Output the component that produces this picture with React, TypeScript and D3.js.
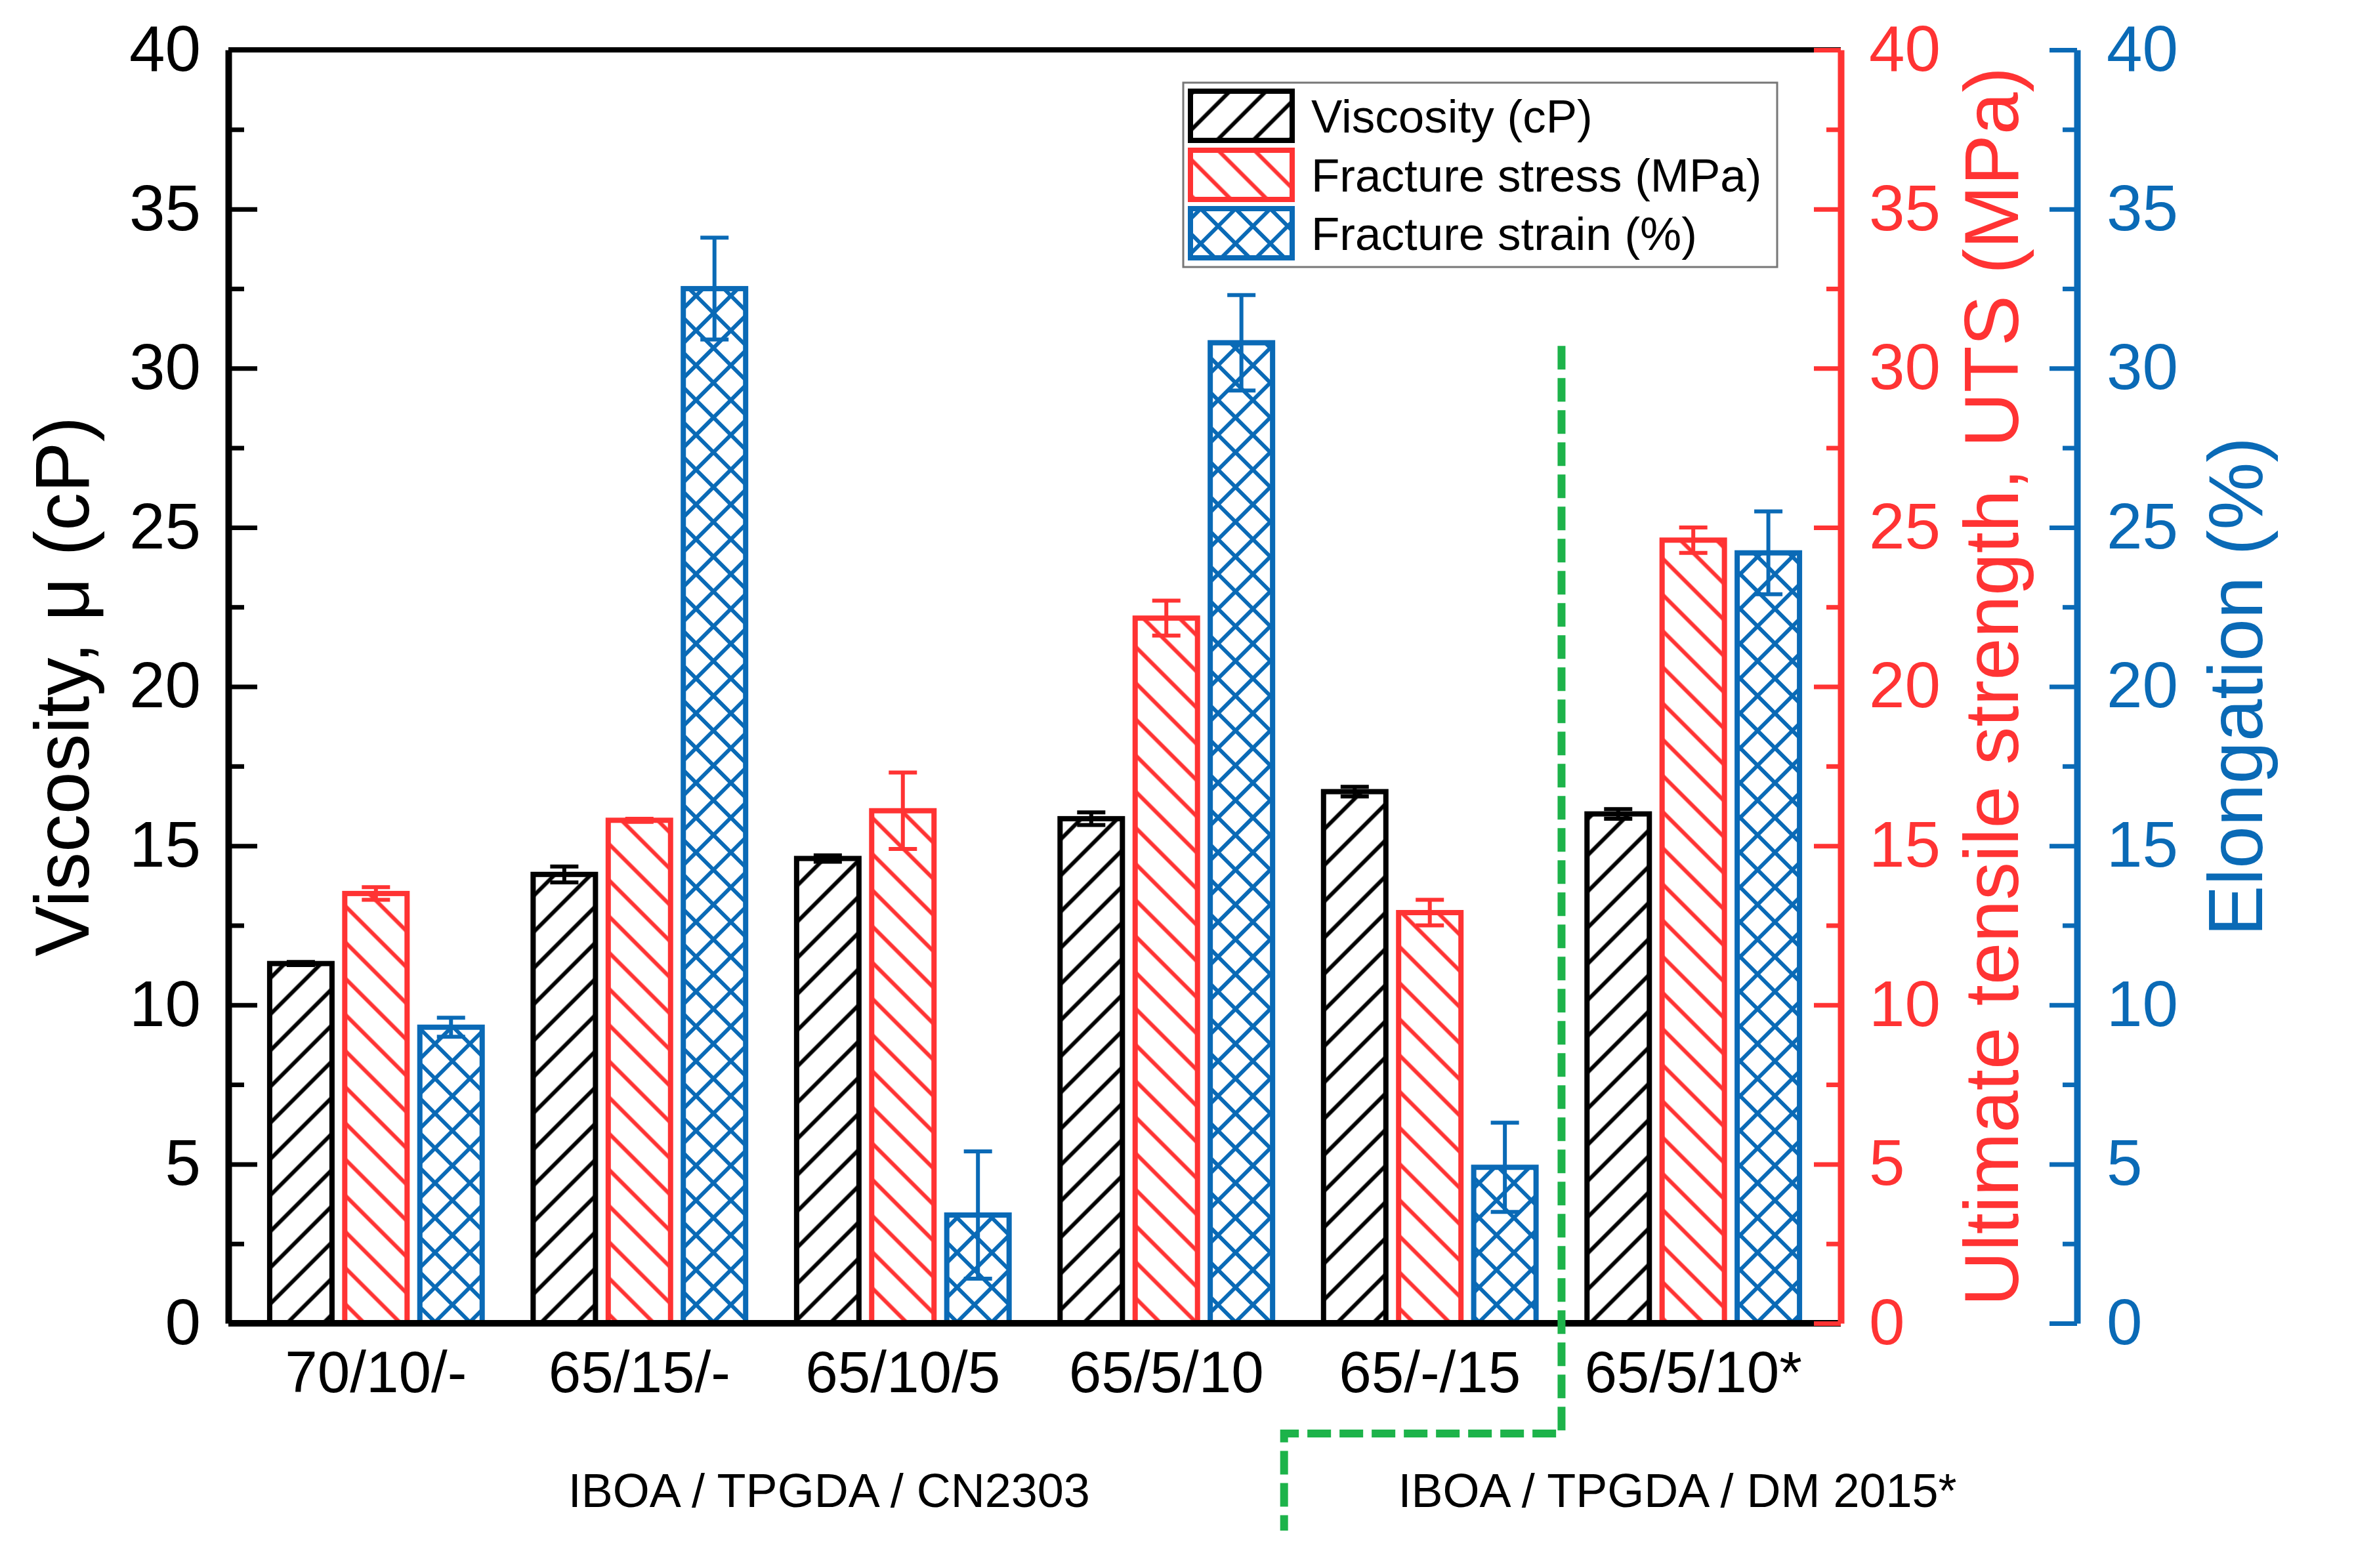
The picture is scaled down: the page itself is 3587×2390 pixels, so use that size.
import React, { useEffect, useRef } from 'react';
import * as d3 from 'd3';

// composition labels (IBOA/TPGDA/oligomer)
const categories = ['70/10/-', '65/15/-', '65/10/5', '65/5/10', '65/-/15', '65/5/10*'];

// left axis: viscosity (cP)
const viscosity = [11.3, 14.1, 14.6, 15.85, 16.7, 16.0];
const viscosityErr = [0.05, 0.25, 0.1, 0.2, 0.15, 0.15];

// red axis: fracture stress / UTS (MPa)
const stress = [13.5, 15.8, 16.1, 22.15, 12.9, 24.6];
const stressErr = [0.2, 0.05, 1.2, 0.55, 0.4, 0.4];

// blue axis: fracture strain / elongation (%)
const strain = [9.3, 32.5, 3.4, 30.8, 4.9, 24.2];
const strainErr = [0.3, 1.6, 2.0, 1.5, 1.4, 1.3];

const majorTicks = [0, 5, 10, 15, 20, 25, 30, 35, 40];
const minorTicks = [2.5, 7.5, 12.5, 17.5, 22.5, 27.5, 32.5, 37.5];

const legendLabels = ['Viscosity (cP)', 'Fracture stress (MPa)', 'Fracture strain (%)'];
const groupLabels = ['IBOA / TPGDA / CN2303', 'IBOA / TPGDA / DM 2015*'];
const groupLabelPos = [2.72, 5.94];

const W = 3587;
const H = 2390;
const FONT = "'Liberation Sans', Arial, Helvetica, sans-serif";
const RED = '#ff3333';
const BLUE = '#0a6ab6';
const GREEN = '#1db34a';

const App: React.FC = () => {
  const svgRef = useRef<SVGSVGElement>(null);

  useEffect(() => {
    if (!svgRef.current) return;
    const svg = d3.select(svgRef.current);
    svg.selectAll('*').remove();

    const left = 348, right = 2805, top = 76, bottom = 2017;

    const x = d3.scaleLinear().domain([0.44, 6.56]).range([left, right]);
    const yV = d3.scaleLinear().domain([0, 40]).range([bottom, top]);
    const yS = d3.scaleLinear().domain([0, 40]).range([bottom, top]);
    const yE = d3.scaleLinear().domain([0, 40]).range([bottom, top]);

    const step = x(2) - x(1);
    const barW = step * 0.2366;

    svg.append('rect').attr('width', W).attr('height', H).attr('fill', '#fff');

    // hatch patterns
    const defs = svg.append('defs');
    const hatch = (id: string, color: string, size: number, angle: number, cross: boolean) => {
      const p = defs.append('pattern')
        .attr('id', id)
        .attr('patternUnits', 'userSpaceOnUse')
        .attr('width', size)
        .attr('height', size)
        .attr('patternTransform', `rotate(${angle})`);
      p.append('line')
        .attr('x1', size / 2).attr('x2', size / 2)
        .attr('y1', 0).attr('y2', size)
        .attr('stroke', color).attr('stroke-width', 6);
      if (cross) {
        p.append('line')
          .attr('y1', size / 2).attr('y2', size / 2)
          .attr('x1', 0).attr('x2', size)
          .attr('stroke', color).attr('stroke-width', 6);
      }
    };
    hatch('hBlack', '#000', 39, 45, false);
    hatch('hRed', RED, 39, -45, false);
    hatch('hBlue', BLUE, 37.5, 45, true);

    const series = [
      { values: viscosity, errs: viscosityErr, color: '#000', fill: 'url(#hBlack)', off: -0.285, y: yV },
      { values: stress, errs: stressErr, color: RED, fill: 'url(#hRed)', off: 0, y: yS },
      { values: strain, errs: strainErr, color: BLUE, fill: 'url(#hBlue)', off: 0.285, y: yE },
    ];

    series.forEach(s => {
      const g = svg.append('g');
      g.selectAll('rect')
        .data(s.values)
        .join('rect')
        .attr('x', (d, i) => x(i + 1 + s.off) - barW / 2)
        .attr('y', d => s.y(d))
        .attr('width', barW)
        .attr('height', d => s.y(0) - s.y(d))
        .attr('fill', s.fill)
        .attr('stroke', s.color)
        .attr('stroke-width', 8);

      const eb = g.selectAll('g.err')
        .data(s.values)
        .join('g')
        .attr('class', 'err')
        .attr('stroke', s.color)
        .attr('stroke-width', 6);
      eb.append('line')
        .attr('x1', (d, i) => x(i + 1 + s.off))
        .attr('x2', (d, i) => x(i + 1 + s.off))
        .attr('y1', (d, i) => s.y(d - s.errs[i]))
        .attr('y2', (d, i) => s.y(d + s.errs[i]));
      [1, -1].forEach(sign => {
        eb.append('line')
          .attr('x1', (d, i) => x(i + 1 + s.off) - 21.5)
          .attr('x2', (d, i) => x(i + 1 + s.off) + 21.5)
          .attr('y1', (d, i) => s.y(d + sign * s.errs[i]))
          .attr('y2', (d, i) => s.y(d + sign * s.errs[i]));
      });
    });

    // frame lines
    svg.append('line').attr('x1', left).attr('x2', right).attr('y1', top).attr('y2', top)
      .attr('stroke', '#000').attr('stroke-width', 8);
    svg.append('line').attr('x1', left).attr('x2', right).attr('y1', bottom).attr('y2', bottom)
      .attr('stroke', '#000').attr('stroke-width', 10);

    const styleAxis = (g: any, color: string, lineW: number) => {
      g.select('.domain').attr('stroke', color).attr('stroke-width', lineW);
      g.selectAll('.tick line').attr('stroke', color).attr('stroke-width', 7);
      g.selectAll('.tick text')
        .attr('fill', color)
        .attr('font-size', 98)
        .attr('font-family', FONT);
    };

    const addAxis = (axisFn: any, scale: any, xPos: number, color: string, major: number, minor: number, pad: number) => {
      const gm = svg.append('g').attr('transform', `translate(${xPos},0)`)
        .call(axisFn(scale).tickValues(minorTicks).tickSize(-minor).tickSizeOuter(0).tickFormat(() => ''));
      gm.select('.domain').remove();
      gm.selectAll('.tick line').attr('stroke', color).attr('stroke-width', 7);
      const g = svg.append('g').attr('transform', `translate(${xPos},0)`)
        .call(axisFn(scale).tickValues(majorTicks).tickSize(-major).tickSizeOuter(0).tickPadding(pad).tickFormat(d3.format('d')));
      styleAxis(g, color, 10);
    };

    addAxis(d3.axisLeft, yV, left, '#000', 44, 24, 42);
    addAxis(d3.axisRight, yS, right, RED, 41, 22, 43);
    addAxis(d3.axisRight, yE, 3165, BLUE, 42, 22, 45);

    // category labels
    svg.append('g').selectAll('text')
      .data(categories)
      .join('text')
      .attr('x', (d, i) => x(i + 1))
      .attr('y', 2122)
      .attr('text-anchor', 'middle')
      .attr('font-size', 89)
      .attr('font-family', FONT)
      .text(d => d);

    // axis titles
    const title = (txt: string, xPos: number, color: string) => {
      svg.append('text')
        .attr('transform', `translate(${xPos},${(top + bottom) / 2}) rotate(-90)`)
        .attr('text-anchor', 'middle')
        .attr('font-size', 116)
        .attr('font-family', FONT)
        .attr('fill', color)
        .text(txt);
    };
    title('Viscosity, \u03bc (cP)', 135, '#000');
    title('Ultimate tensile strength, UTS (MPa)', 3075, RED);
    title('Elongation (%)', 3447, BLUE);

    // group labels
    svg.append('g').selectAll('text')
      .data(groupLabels)
      .join('text')
      .attr('x', (d, i) => x(groupLabelPos[i]))
      .attr('y', 2297)
      .attr('text-anchor', 'middle')
      .attr('font-size', 72)
      .attr('font-family', FONT)
      .text(d => d);

    // green dashed separator
    const sep = d3.path();
    sep.moveTo(x(5.5), yE(30.7));
    sep.lineTo(x(5.5), 2185);
    sep.lineTo(x(4.447), 2185);
    sep.lineTo(x(4.447), 2333);
    svg.append('path')
      .attr('d', sep.toString())
      .attr('fill', 'none')
      .attr('stroke', GREEN)
      .attr('stroke-width', 12)
      .attr('stroke-dasharray', '36 13');

    // legend
    const lg = svg.append('g');
    lg.append('rect')
      .attr('x', 1803).attr('y', 126).attr('width', 905).attr('height', 281)
      .attr('fill', '#fff').attr('stroke', '#777').attr('stroke-width', 3);
    const rowTops = [135, 225, 314];
    series.forEach((s, i) => {
      lg.append('rect')
        .attr('x', 1814).attr('y', rowTops[i] + 4)
        .attr('width', 155).attr('height', 75)
        .attr('fill', s.fill)
        .attr('stroke', s.color)
        .attr('stroke-width', 8);
      lg.append('text')
        .attr('x', 1998).attr('y', rowTops[i] + 67)
        .attr('font-size', 71)
        .attr('font-family', FONT)
        .text(legendLabels[i]);
    });
  }, []);

  return (
    <svg
      ref={svgRef}
      width={W}
      height={H}
      style={{ position: 'absolute', left: 0, top: 0 }}
    />
  );
};

export default App;
